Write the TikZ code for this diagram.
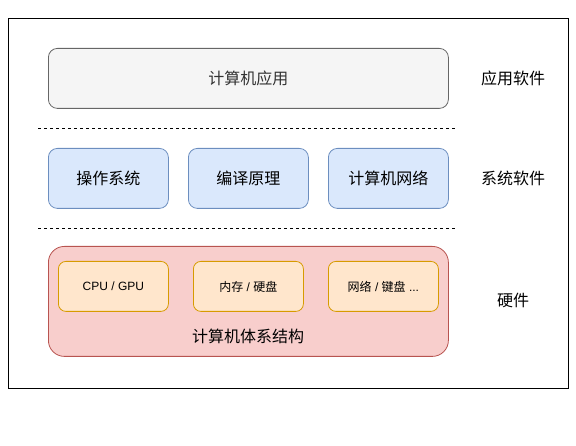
\documentclass[tikz,border=0pt]{standalone}
\usepackage{fontspec}
\setmainfont{Liberation Sans}
\newfontfamily\cjk{Noto Sans CJK SC}
\definecolor{grayfill}{HTML}{F5F5F5}
\definecolor{graystroke}{HTML}{666666}
\definecolor{graytext}{HTML}{333333}
\definecolor{bluefill}{HTML}{DAE8FC}
\definecolor{bluestroke}{HTML}{6C8EBF}
\definecolor{redfill}{HTML}{F8CECC}
\definecolor{redstroke}{HTML}{B85450}
\definecolor{orfill}{HTML}{FFE6CC}
\definecolor{orstroke}{HTML}{D79B00}
\begin{document}
\begin{tikzpicture}[x=1pt,y=-1pt,
  basebox/.style={draw, line width=0.8pt, inner sep=0pt, anchor=north west},
  bigtext/.style={font=\fontsize{16}{19}\selectfont\cjk},
  appbox/.style={basebox, bigtext, fill=grayfill, draw=graystroke, text=graytext, rounded corners=9pt, minimum width=400pt, minimum height=60pt},
  sysbox/.style={basebox, bigtext, fill=bluefill, draw=bluestroke, rounded corners=9pt, minimum width=120pt, minimum height=60pt},
  hwbox/.style={basebox, fill=redfill, draw=redstroke, rounded corners=16pt, minimum width=400pt, minimum height=110pt},
  partbox/.style={basebox, fill=orfill, draw=orstroke, rounded corners=7.5pt, minimum width=110pt, minimum height=50pt, font=\fontsize{12}{14}\selectfont},
  layerlabel/.style={bigtext, inner sep=0pt},
  sepline/.style={line width=0.8pt, dash pattern=on 3pt off 3pt}
]
\useasboundingbox (0,0) rectangle (576,446);
\node[draw, line width=0.8pt, minimum width=560pt, minimum height=370pt, anchor=north west, inner sep=0pt] (frame) at (8,18) {};

\node[appbox] (app) at (48,48) {计算机应用};
\node[layerlabel] (l1) at (513,78) {应用软件};

\coordinate (d1a) at (38,128);
\coordinate (d1b) at (456,128);
\draw[sepline] (d1a) -- (d1b);

\node[sysbox] (os) at (48,148) {操作系统};
\node[sysbox] (cc) at (188,148) {编译原理};
\node[sysbox] (net) at (328,148) {计算机网络};
\node[layerlabel] (l2) at (513,178) {系统软件};

\coordinate (d2a) at (38,228);
\coordinate (d2b) at (456,228);
\draw[sepline] (d2a) -- (d2b);

\node[hwbox] (hw) at (48,246) {};
\node[bigtext, inner sep=0pt] (hwlabel) at (248,336) {计算机体系结构};
\node[partbox] (cpu) at (58,261) {CPU / GPU};
\node[partbox] (mem) at (193,261) {{\cjk 内存} / {\cjk 硬盘}};
\node[partbox] (io) at (328,261) {{\cjk 网络} / {\cjk 键盘} ...};
\node[layerlabel] (l3) at (513,300) {硬件};
\end{tikzpicture}
\end{document}
